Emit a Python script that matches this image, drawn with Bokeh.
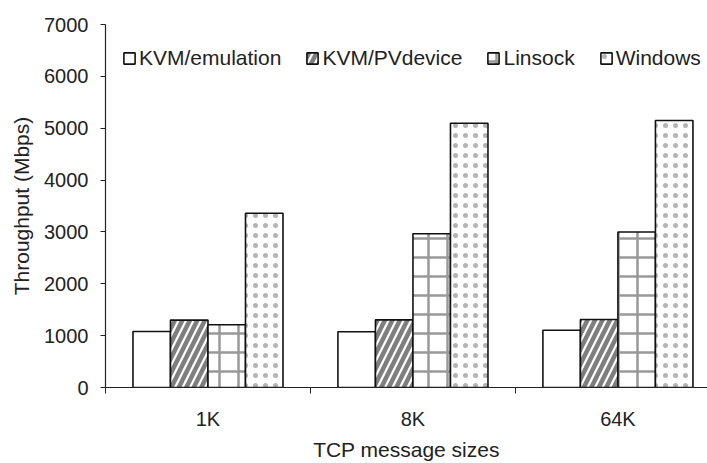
from bokeh.plotting import figure
from bokeh.models import ColumnDataSource, Range1d, FixedTicker, Legend, LegendItem
from bokeh.embed import file_html
from bokeh.resources import INLINE

categories = ["1K", "8K", "64K"]
series = ["KVM/emulation", "KVM/PVdevice", "Linsock", "Windows"]
kvm_emulation = [1080, 1075, 1105]
kvm_pvdevice = [1300, 1305, 1310]
linsock = [1210, 2965, 3000]
windows = [3360, 5095, 5150]
y_ticks = [0, 1000, 2000, 3000, 4000, 5000, 6000, 7000]
x_title = "TCP message sizes"
y_title = "Throughput (Mbps)"

values = [kvm_emulation, kvm_pvdevice, linsock, windows]
styles = [
    dict(hatch_pattern=" "),
    dict(hatch_pattern="right_diagonal_line", hatch_color="#7f7f7f", hatch_weight=4.5, hatch_scale=15),
    dict(hatch_pattern="cross", hatch_color="#999999", hatch_weight=2.5, hatch_scale=19),
    dict(hatch_pattern="dot", hatch_color="#b4b4b4", hatch_weight=0.5, hatch_scale=10),
]

FONT = "Liberation Sans"
TXT = "#222222"

p = figure(width=707, height=463, output_backend="svg", toolbar_location=None,
           x_range=Range1d(0, 2.937), y_range=Range1d(0, 7000),
           min_border_left=105, min_border_right=0, min_border_top=24, min_border_bottom=74)
p.outline_line_color = None
p.xgrid.visible = False
p.ygrid.visible = False
p.background_fill_color = "white"
p.border_fill_color = "white"

bar_w = 0.183
centers = [i + 0.5 for i in range(len(categories))]
items = []
for k, (name, vals, st) in enumerate(zip(series, values, styles)):
    off = (k - 1.5) * bar_w
    src = ColumnDataSource(dict(x=[c + off for c in centers], top=vals))
    r = p.vbar(x="x", top="top", bottom=0, width=bar_w, source=src,
               fill_color="white", line_color="#111111", line_width=1.6, **st)
    items.append(LegendItem(label=name, renderers=[r]))

legend = Legend(items=items, orientation="horizontal", location=(17, 317),
                label_text_font=FONT, label_text_font_size="21px", label_text_color=TXT,
                glyph_width=14, glyph_height=14, label_standoff=3, spacing=24,
                padding=0, margin=0, border_line_color=None, background_fill_alpha=0,
                label_height=20)
p.add_layout(legend)

# x axis
p.xaxis.ticker = FixedTicker(ticks=centers, minor_ticks=[0, 1, 2, 3])
p.xaxis.major_label_overrides = {c: cat for c, cat in zip(centers, categories)}
p.xaxis.major_tick_out = 6
p.xaxis.minor_tick_out = 6
p.xaxis.minor_tick_in = 0
p.xaxis.minor_tick_line_color = "#222222"
p.xaxis.major_label_standoff = 14
p.xaxis.axis_label = x_title
p.xaxis.axis_label_standoff = 5

# y axis
p.yaxis.ticker = FixedTicker(ticks=y_ticks)
p.yaxis.major_tick_out = 5
p.yaxis.major_tick_in = 0
p.yaxis.minor_tick_line_color = None
p.yaxis.major_label_standoff = 12
p.yaxis.axis_label = y_title
p.yaxis.axis_label_standoff = 8

for ax in (p.xaxis, p.yaxis):
    ax.axis_line_color = "#222222"
    ax.axis_line_width = 1.2
    ax.major_label_text_font = FONT
    ax.major_label_text_font_size = "20px"
    ax.major_label_text_color = TXT
    ax.axis_label_text_font = FONT
    ax.axis_label_text_font_size = "21px"
    ax.axis_label_text_font_style = "normal"
    ax.axis_label_text_color = TXT
p.xaxis.major_tick_line_color = None
p.yaxis.major_tick_line_color = "#222222"

open("out.html", "w").write(file_html(p, INLINE))
